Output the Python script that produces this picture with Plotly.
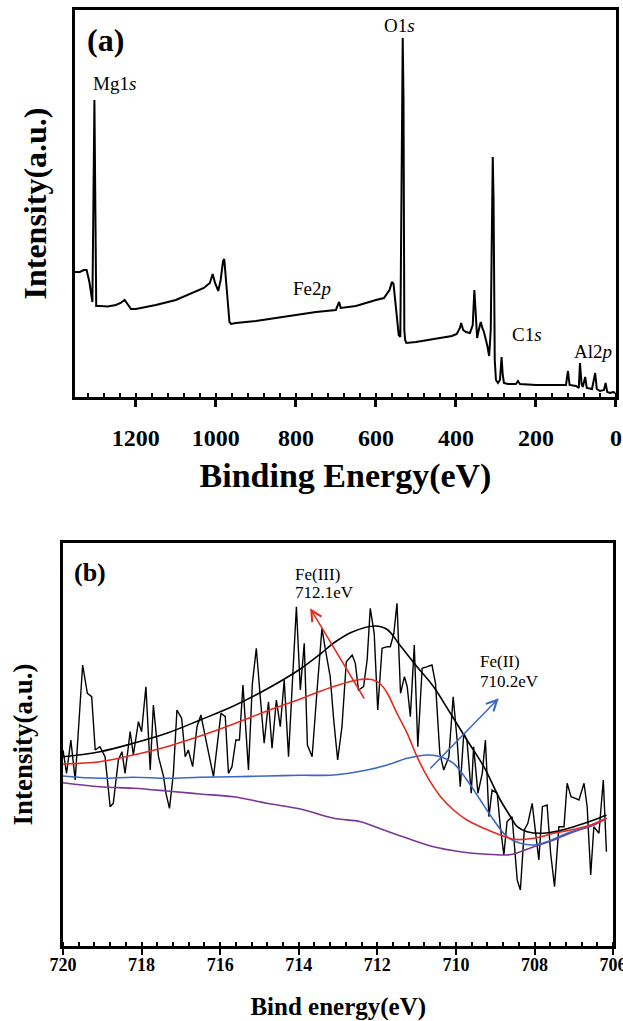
import plotly.graph_objects as go

# ---------------- Panel (a): XPS survey ----------------
survey_be = [1352, 1340, 1330, 1323, 1316, 1310, 1308.5, 1303.5, 1301.5, 1299, 1290, 1270, 1250, 1238,
             1228, 1220, 1212, 1200, 1150, 1100, 1050, 1030, 1015, 1008, 1002, 994, 988, 982, 979, 975,
             970, 966, 962, 950, 900, 850, 800, 750, 700, 692, 688, 650, 600, 580, 566, 560, 556, 550,
             543, 539, 535, 533, 531, 529, 527, 524, 500, 450, 410, 398, 390, 387, 382, 375, 365, 358,
             354, 351, 347, 343, 338, 334, 330, 322, 317, 313, 310, 308, 306, 303, 300, 295, 290, 286,
             283, 280, 270, 250, 245, 240, 200, 150, 125, 120, 116, 100, 93, 90, 86, 83, 77, 73, 60,
             52, 48, 40, 30, 26, 22, 15, 7, 2]
survey_int = [125, 125, 127, 127, 115, 97, 95, 297, 197, 91, 91, 90.5, 92, 94,
              97, 93, 88, 88, 92, 97, 105, 109, 114, 123, 114, 106, 117, 136, 138, 117,
              92, 75, 73, 74, 76, 79, 82, 85, 87, 95, 89, 91, 97, 99, 107, 115, 113, 87,
              62, 60, 247, 359, 297, 67, 57, 54, 55, 58, 61, 63, 69, 74, 67, 65, 64, 72,
              107, 87, 59, 67, 75, 69, 65, 52, 41, 67, 197, 240, 197, 37, 17, 14, 17, 40,
              22, 14, 13, 13, 16, 13, 12, 12, 12, 26, 12, 11, 9, 34, 13, 10, 20, 9, 8,
              24, 8, 6, 7, 14, 5, 4, 5, 4]

peak_labels = ["Mg1<i>s</i>", "O1<i>s</i>", "Fe2<i>p</i>", "C1<i>s</i>"]
peak_label_be = [1254, 540, 760, 222]
peak_label_int = [313, 371, 108, 62]
al_label = "Al2<i>p</i>"
al_label_be = 105
al_label_int = 44

a_ticks = [1200, 1000, 800, 600, 400, 200, 0]

# ---------------- Panel (b): Fe 2p high resolution ----------------
raw_be = [720.0, 719.91, 719.80, 719.69, 719.50, 719.38, 719.27, 719.18, 719.06, 718.93, 718.80, 718.72,
          718.59, 718.50, 718.42, 718.29, 718.21, 718.08, 718.00, 717.89, 717.78, 717.70, 717.57, 717.44,
          717.38, 717.29, 717.19, 717.10, 716.98, 716.89, 716.81, 716.70, 716.59, 716.49, 716.38, 716.27,
          716.17, 715.98, 715.87, 715.79, 715.70, 715.60, 715.51, 715.42, 715.28, 715.18, 715.08, 714.98,
          714.88, 714.77, 714.68, 714.57, 714.47, 714.37, 714.26, 714.17, 714.06, 713.96, 713.86, 713.78,
          713.66, 713.54, 713.41, 713.32, 713.20, 713.11, 713.01, 712.90, 712.79, 712.64, 712.56, 712.48,
          712.35, 712.26, 712.18, 712.08, 711.99, 711.88, 711.75, 711.67, 711.58, 711.50, 711.41, 711.31,
          711.24, 711.16, 711.06, 710.97, 710.86, 710.73, 710.61, 710.52, 710.41, 710.31, 710.18, 710.07,
          709.97, 709.89, 709.80, 709.72, 709.61, 709.55, 709.44, 709.33, 709.25, 709.16, 709.08, 708.95,
          708.87, 708.78, 708.70, 708.57, 708.44, 708.36, 708.26, 708.17, 708.06, 707.97, 707.89, 707.80,
          707.68, 707.59, 707.49, 707.38, 707.25, 707.17, 707.07, 706.96, 706.87, 706.74, 706.66, 706.57,
          706.49, 706.36, 706.25, 706.17]
raw_int = [196, 172.7, 206, 166, 281, 252.7, 249.3, 196, 199.3, 189.3, 139.3, 142.7,
           186, 194.3, 172.7, 214.3, 191, 224.3, 214.3, 259.3, 176, 241, 189.3, 169.3,
           152.7, 137.7, 172.7, 236, 227.7, 189.3, 196, 179.3, 219.3, 231, 209.3, 189.3,
           169.3, 232.7, 229.3, 172.7, 179.3, 206, 206, 261, 176, 262.7, 297.7, 249.3,
           202.7, 244.3, 197.7, 246, 219.3, 266, 189.3, 257.7, 339.3, 256, 302.7, 201,
           189.3, 252.7, 317.7, 296, 269.3, 226, 186, 219.3, 284.3, 291, 282.7, 256,
           259.3, 286, 337.7, 312.7, 236, 297.7, 299.3, 299.3, 312.7, 342.7, 252.7, 269.3,
           259.3, 229.3, 301, 199.3, 277.7, 279.3, 281, 262.7, 192.7, 176, 189.3, 249.3,
           206, 159.3, 212.7, 206, 152.7, 199.3, 152.7, 172.7, 206, 129.3, 156, 152.7,
           119.3, 91, 124.3, 129.3, 66, 56, 116, 122.7, 142.7, 112.7, 86, 139.3,
           141, 92.7, 59.3, 119.3, 119.3, 162.7, 149.3, 147.7, 146, 162.7, 139.3, 71,
           119.3, 112.7, 166, 94.3]

fit_be = [720.0, 719.06, 718.21, 717.36, 716.51, 715.66, 714.81, 713.96, 713.45, 713.11, 712.64, 712.05,
          711.75, 711.41, 710.99, 710.57, 710.14, 709.72, 709.29, 708.87, 708.61, 708.44, 708.19, 707.85,
          707.51, 707.00, 706.49, 706.17]
fit_int = [189.3, 194.3, 202.7, 212.7, 226, 240, 257, 277, 292, 303, 314, 320,
           316.5, 300, 279.3, 259.3, 232.7, 206, 179.3, 146, 129.3, 119.3, 114.3, 112.7,
           114.3, 119.3, 126, 131]

fe3_be = [720.0, 719.06, 718.21, 717.36, 716.51, 715.66, 714.81, 713.96, 713.54, 713.11, 712.64, 712.43,
          712.14, 711.92, 711.75, 711.50, 711.24, 710.99, 710.73, 710.39, 710.06, 709.72, 709.29, 708.87,
          708.53, 708.02, 707.51, 707.00, 706.49, 706.17]
fe3_int = [182, 184.3, 191, 199.3, 210, 222, 235, 247, 253.5, 259.5, 265, 266.5,
           266.5, 262, 253, 232.7, 212.7, 189.3, 169.3, 149.3, 136, 126, 117.7, 111,
           106.7, 107.7, 112.7, 116.7, 122, 127.7]

fe2_be = [720.0, 719.06, 718.21, 717.36, 716.51, 715.66, 714.81, 713.96, 713.11, 712.26, 711.75, 711.24,
          710.73, 710.39, 710.06, 709.72, 709.38, 709.04, 708.70, 708.36, 708.02, 707.68, 707.17, 706.66,
          706.17]
fe2_int = [170, 167.7, 168.7, 167.7, 168.7, 169.3, 170, 170.7, 171, 176, 181, 187.7,
           191, 189.3, 182.7, 166, 146, 126, 109.3, 102.7, 101, 104.3, 112.7, 119.3,
           127.7]

bg_be = [720.0, 719.06, 718.21, 717.36, 716.51, 715.66, 714.81, 713.96, 713.11, 712.43, 711.84, 711.24,
         710.57, 709.89, 709.21, 708.74, 708.53, 708.02, 707.51, 707.00, 706.49, 706.17]
bg_int = [163.3, 159.3, 157.7, 155, 152, 149.3, 142.7, 137, 127.7, 124.3, 116, 107.7,
          99.3, 94.3, 91.7, 91, 92, 99.3, 106, 114.3, 121, 127.7]

b_ticks = [720, 718, 716, 714, 712, 710, 708, 706]

# arrows: (tail_be, tail_int, head_be, head_int)
fe3_arrow = (712.31, 246, 713.71, 337.7)
fe2_arrow = (710.69, 176, 708.91, 247.7)

SERIF = "Liberation Serif"
RED = "#e8291f"
BLUE = "#3b66c8"
PURPLE = "#7b3596"

fig = go.Figure()

fig.add_trace(go.Scatter(x=survey_be, y=survey_int, mode="lines",
                         line=dict(color="black", width=2), xaxis="x", yaxis="y",
                         showlegend=False, hoverinfo="skip"))
fig.add_trace(go.Scatter(x=[al_label_be], y=[al_label_int], mode="text", text=[al_label],
                         textposition="middle right", cliponaxis=True,
                         textfont=dict(family=SERIF, size=19, color="black"),
                         xaxis="x", yaxis="y", showlegend=False, hoverinfo="skip"))

fig.add_trace(go.Scatter(x=raw_be, y=raw_int, mode="lines", line=dict(color="black", width=1.4),
                         xaxis="x2", yaxis="y2", showlegend=False, hoverinfo="skip"))
fig.add_trace(go.Scatter(x=bg_be, y=bg_int, mode="lines", line=dict(color=PURPLE, width=1.6, shape="spline"),
                         xaxis="x2", yaxis="y2", showlegend=False, hoverinfo="skip"))
fig.add_trace(go.Scatter(x=fe2_be, y=fe2_int, mode="lines", line=dict(color=BLUE, width=1.6, shape="spline"),
                         xaxis="x2", yaxis="y2", showlegend=False, hoverinfo="skip"))
fig.add_trace(go.Scatter(x=fe3_be, y=fe3_int, mode="lines", line=dict(color=RED, width=1.6, shape="spline"),
                         xaxis="x2", yaxis="y2", showlegend=False, hoverinfo="skip"))
fig.add_trace(go.Scatter(x=fit_be, y=fit_int, mode="lines", line=dict(color="black", width=1.6, shape="spline"),
                         xaxis="x2", yaxis="y2", showlegend=False, hoverinfo="skip"))

annotations = []
annotations.append(dict(text="(a)", x=1275, y=357, xref="x", yref="y", showarrow=False,
                        font=dict(family=SERIF, size=32, color="black", weight="bold")))
for t, xv, yv in zip(peak_labels, peak_label_be, peak_label_int):
    annotations.append(dict(text=t, x=xv, y=yv, xref="x", yref="y", showarrow=False,
                            font=dict(family=SERIF, size=19, color="black")))

annotations.append(dict(text="(b)", x=719.31, y=373, xref="x2", yref="y2", showarrow=False,
                        font=dict(family=SERIF, size=26, color="black", weight="bold")))
annotations.append(dict(text="Fe(III)", x=714.14, y=371, xref="x2", yref="y2", showarrow=False,
                        xanchor="left", font=dict(family=SERIF, size=17, color="black")))
annotations.append(dict(text="712.1eV", x=714.14, y=353, xref="x2", yref="y2", showarrow=False,
                        xanchor="left", font=dict(family=SERIF, size=17, color="black")))
annotations.append(dict(text="Fe(II)", x=709.43, y=284.3, xref="x2", yref="y2", showarrow=False,
                        xanchor="left", font=dict(family=SERIF, size=17, color="black")))
annotations.append(dict(text="710.2eV", x=709.43, y=264.3, xref="x2", yref="y2", showarrow=False,
                        xanchor="left", font=dict(family=SERIF, size=17, color="black")))
for arr, col in ((fe3_arrow, RED), (fe2_arrow, BLUE)):
    annotations.append(dict(x=arr[2], y=arr[3], ax=arr[0], ay=arr[1], xref="x2", yref="y2",
                            axref="x2", ayref="y2", text="", showarrow=True, arrowhead=5,
                            arrowsize=1.4, arrowwidth=1.5, arrowcolor=col))

tickfont_a = dict(family=SERIF, size=24, color="black", weight="bold")
tickfont_b = dict(family=SERIF, size=18, color="black", weight="bold")

fig.update_layout(
    width=623, height=1021,
    margin=dict(l=0, r=0, t=0, b=0),
    paper_bgcolor="white", plot_bgcolor="white",
    showlegend=False,
    annotations=annotations,
    xaxis=dict(domain=[0.12039, 0.98876], range=[1352, 0], anchor="y",
               tickmode="array", tickvals=a_ticks, ticktext=[str(v) for v in a_ticks],
               ticks="outside", ticklen=7, tickwidth=2.5, tickcolor="black",
               minor=dict(dtick=40, tick0=0, ticks="inside", ticklen=4, tickwidth=2, tickcolor="black"),
               showline=True, linewidth=3, linecolor="black", mirror=True,
               showgrid=False, zeroline=False, tickfont=tickfont_a, ticklabelstandoff=10,
               ticklabeloverflow="allow", automargin=False,
               title=dict(text="Binding Energy(eV)", standoff=14,
                          font=dict(family=SERIF, size=34, color="black", weight="bold"))),
    yaxis=dict(domain=[0.61117, 0.99021], range=[0, 387], anchor="x",
               showticklabels=False, ticks="", showline=True, linewidth=3, linecolor="black",
               mirror=True, showgrid=False, zeroline=False, automargin=False,
               title=dict(text="Intensity(a.u.)", standoff=16,
                          font=dict(family=SERIF, size=32, color="black", weight="bold"))),
    xaxis2=dict(domain=[0.10112, 0.98475], range=[720, 705.99], anchor="y2",
                tickmode="array", tickvals=b_ticks, ticktext=[str(v) for v in b_ticks],
                ticks="outside", ticklen=6, tickwidth=2, tickcolor="black",
                minor=dict(dtick=0.4, tick0=720, ticks="inside", ticklen=4, tickwidth=1.5, tickcolor="black"),
                showline=True, linewidth=2.5, linecolor="black", mirror=True,
                showgrid=False, zeroline=False, tickfont=tickfont_b, ticklabelstandoff=-5,
                ticklabeloverflow="allow", automargin=False,
                title=dict(text="Bind energy(eV)", standoff=25,
                           font=dict(family=SERIF, size=25, color="black", weight="bold"))),
    yaxis2=dict(domain=[0.07346, 0.46817], range=[0, 403], anchor="x2",
                showticklabels=False, ticks="", showline=True, linewidth=2.5, linecolor="black",
                mirror=True, showgrid=False, zeroline=False, automargin=False,
                title=dict(text="Intensity(a.u.)", standoff=20,
                           font=dict(family=SERIF, size=27, color="black", weight="bold"))),
)

fig.write_html("out.html", config={"displayModeBar": False},
               post_script="document.body.style.margin='0px';document.body.style.overflow='hidden';")
